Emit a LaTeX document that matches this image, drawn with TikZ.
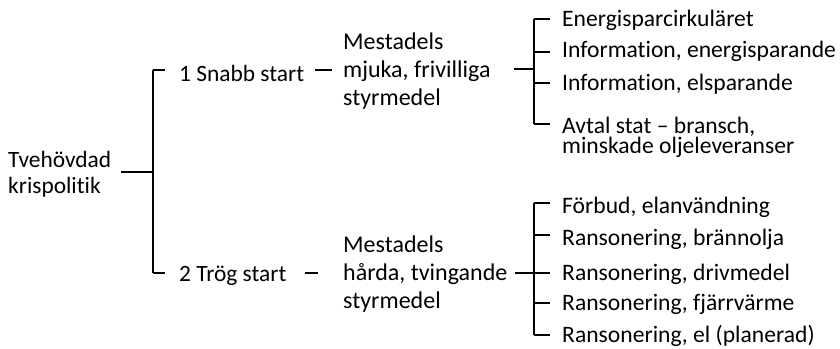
\documentclass[tikz,border=0pt]{standalone}
\usepackage{fontspec}
\setmainfont{Carlito}[Ligatures=NoCommon]
\begin{document}
\begin{tikzpicture}[x=1pt,y=-1pt,
  lbl/.style={inner sep=0pt, anchor=base west, align=left, text=black},
  big/.style={lbl, font=\fontsize{23.4}{26}\selectfont},
  mid/.style={lbl, font=\fontsize{24}{28}\selectfont},
  leaf/.style={lbl, font=\fontsize{23.6}{20}\selectfont},
  conn/.style={line width=1.3pt, black}]
\useasboundingbox (0,0) rectangle (840,348);
% nodes (positioned at last baseline)
\node[big] (root) at (8,193) {Tvehövdad\\krispolitik};
\node[big] (s1) at (179,81.7) {1 Snabb start};
\node[big] (s2) at (179,281.7) {2 Trög start};
\node[mid] (m1) at (343,105) {Mestadels\\mjuka, frivilliga\\styrmedel};
\node[mid] (m2) at (343,308) {Mestadels\\hårda, tvingande\\styrmedel};
\node[leaf] (a1) at (562,27) {Energisparcirkuläret};
\node[leaf] (a2) at (562,57) {Information, energisparande};
\node[leaf] (a3) at (562,90) {Information, elsparande};
\node[leaf] (a4) at (562,153.3) {Avtal stat – bransch,\\minskade oljeleveranser};
\node[leaf] (b1) at (562,213) {Förbud, elanvändning};
\node[leaf] (b2) at (562,245) {Ransonering, brännolja};
\node[leaf] (b3) at (562,280) {Ransonering, drivmedel};
\node[leaf] (b4) at (562,310) {Ransonering, fjärrvärme};
\node[leaf] (b5) at (562,342) {Ransonering, el (planerad)};
% junctions
\coordinate (J0) at (153,172);
\coordinate (J0a) at (153,70);
\coordinate (J0b) at (153,273);
\coordinate (V1m) at (534,69);
\coordinate (V1a) at (534,19);
\coordinate (V1b) at (534,52);
\coordinate (V1c) at (534,83);
\coordinate (V1d) at (534,124);
\coordinate (V2m) at (534,273);
\coordinate (V2a) at (534,203);
\coordinate (V2b) at (534,235);
\coordinate (V2c) at (534,273);
\coordinate (V2d) at (534,303);
\coordinate (V2e) at (534,335);
% root
\draw[conn] (root.east |- J0) ++(10,0) -- (J0);
\draw[conn] (J0a) -- (J0b);
\draw[conn] (J0a) -- ([xshift=-14pt]s1.west |- J0a);
\draw[conn] (J0b) -- ([xshift=-14pt]s2.west |- J0b);
% to middle
\draw[conn] ([xshift=11pt]s1.east |- J0a) -- ([xshift=-11pt]m1.west |- J0a);
\draw[conn] ([xshift=18pt]s2.east |- J0b) -- ([xshift=-25pt]m2.west |- J0b);
% top group
\draw[conn] (m1.east |- V1m) ++(23,0) -- (V1m);
\draw[conn] (V1a) -- (V1d);
\draw[conn] (V1a) -- ([xshift=-12pt]a1.west |- V1a);
\draw[conn] (V1b) -- ([xshift=-12pt]a2.west |- V1b);
\draw[conn] (V1c) -- ([xshift=-12pt]a3.west |- V1c);
\draw[conn] (V1d) -- ([xshift=-12pt]a4.west |- V1d);
% bottom group
\draw[conn] (m2.east |- V2m) ++(7,0) -- (V2m);
\draw[conn] (V2a) -- (V2e);
\draw[conn] (V2a) -- ([xshift=-12pt]b1.west |- V2a);
\draw[conn] (V2b) -- ([xshift=-12pt]b2.west |- V2b);
\draw[conn] (V2c) -- ([xshift=-12pt]b3.west |- V2c);
\draw[conn] (V2d) -- ([xshift=-12pt]b4.west |- V2d);
\draw[conn] (V2e) -- ([xshift=-12pt]b5.west |- V2e);
\end{tikzpicture}
\end{document}
